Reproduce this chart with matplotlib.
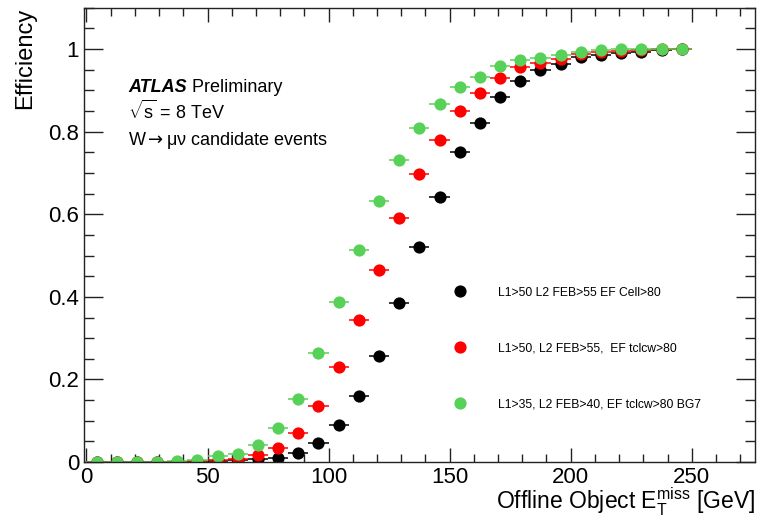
import matplotlib
matplotlib.use("Agg")
import matplotlib.pyplot as plt
from matplotlib.lines import Line2D
from matplotlib.ticker import MultipleLocator, FuncFormatter

plt.rcParams['font.family'] = ['Liberation Sans', 'DejaVu Sans']
plt.rcParams['mathtext.fontset'] = 'custom'
plt.rcParams['mathtext.rm'] = 'Liberation Sans'
plt.rcParams['mathtext.it'] = 'Liberation Sans:italic'
plt.rcParams['mathtext.bf'] = 'Liberation Sans:bold'
plt.rcParams['mathtext.sf'] = 'DejaVu Sans'

#%% data (bin centres of 8.33 GeV bins, efficiencies)
met = [4.17, 12.5, 20.83, 29.17, 37.5, 45.83, 54.17, 62.5, 70.83, 79.17,
       87.5, 95.83, 104.17, 112.5, 120.83, 129.17, 137.5, 145.83, 154.17, 162.5,
       170.83, 179.17, 187.5, 195.83, 204.17, 212.5, 220.83, 229.17, 237.5, 245.83]
bin_half = [4.17] * len(met)

eff_cell = [0.0, 0.0, 0.0, 0.0, 0.0, 0.001, 0.002, 0.004, 0.007, 0.011,
            0.022, 0.046, 0.089, 0.159, 0.258, 0.385, 0.520, 0.643, 0.750, 0.820,
            0.883, 0.922, 0.949, 0.964, 0.980, 0.985, 0.991, 0.993, 0.998, 1.0]
eff_tclcw = [0.0, 0.0, 0.0, 0.0, 0.001, 0.002, 0.006, 0.007, 0.016, 0.035,
             0.071, 0.136, 0.230, 0.343, 0.466, 0.591, 0.697, 0.780, 0.850, 0.893,
             0.931, 0.956, 0.967, 0.976, 0.989, 0.993, 0.996, 0.997, 0.999, 1.0]
eff_bg7 = [0.0, 0.0, 0.0, 0.001, 0.002, 0.005, 0.014, 0.020, 0.041, 0.082,
           0.153, 0.263, 0.387, 0.514, 0.633, 0.731, 0.810, 0.868, 0.907, 0.933,
           0.959, 0.973, 0.979, 0.986, 0.993, 0.998, 0.999, 0.999, 1.0, 1.0]

labels = ["L1>50 L2 FEB>55 EF Cell>80",
          "L1>50, L2 FEB>55,  EF tclcw>80",
          "L1>35, L2 FEB>40, EF tclcw>80 BG7"]
colors = ["black", "#ff0000", "#57d157"]

#%% plot
fig = plt.figure(figsize=(7.57, 5.18), dpi=100)
ax = fig.add_axes([0.111, 0.108, 0.886, 0.877])

for y, c in zip([eff_cell, eff_tclcw, eff_bg7], colors):
    ax.errorbar(met, y, xerr=bin_half, fmt='o', color=c, ms=8.8,
                elinewidth=1.1, capsize=3.5, capthick=1.1, mew=0)

ax.set_xlim(-1, 276)
ax.set_ylim(0, 1.1)

ax.xaxis.set_major_locator(MultipleLocator(50))
ax.xaxis.set_minor_locator(MultipleLocator(10))
ax.yaxis.set_major_locator(MultipleLocator(0.2))
ax.yaxis.set_minor_locator(MultipleLocator(0.05))
ax.yaxis.set_major_formatter(FuncFormatter(lambda v, p: f"{v:g}"))

ax.tick_params(which='both', direction='in', top=True, right=True,
               colors='#222222', labelcolor='black', labelsize=16, width=1)
ax.tick_params(axis='x', which='major', length=10, pad=3.5)
ax.tick_params(axis='x', which='minor', length=5.5)
ax.tick_params(axis='y', which='major', length=14, pad=3.5)
ax.tick_params(axis='y', which='minor', length=7)
for s in ax.spines.values():
    s.set_color('#222222')
    s.set_linewidth(1)

ax.set_ylabel("Efficiency", fontsize=17, loc='top')
ax.yaxis.set_label_coords(-0.071, 1.0)
ax.set_xlabel(r"Offline Object $\mathrm{E}_{\mathrm{T}}^{\mathrm{miss}}$ [GeV]",
              fontsize=16.5, loc='right')
ax.xaxis.set_label_coords(1.0, -0.053)

t = ax.text(0.066, 0.806, "ATLAS", fontsize=13, fontweight='bold',
            style='italic', transform=ax.transAxes, va='bottom')
ax.annotate(" Preliminary", xy=(1, 0), xycoords=t, fontsize=13, va='bottom')
ax.text(0.066, 0.755, r"$\sqrt{\mathrm{s}}$ = 8 TeV", fontsize=13,
        transform=ax.transAxes, va='baseline')
ax.text(0.066, 0.698, r"W$\mathsf{\rightarrow}$$\mathrm{\mu\nu}$ candidate events",
        fontsize=13, transform=ax.transAxes, va='baseline')

handles = [Line2D([], [], ls='none', marker='o', ms=8.8, mew=0, color=c)
           for c in colors]
ax.legend(handles, labels, loc='upper left', bbox_to_anchor=(0.551, 0.386),
          frameon=False, fontsize=8.7, labelspacing=3.62, handlelength=1.0,
          handletextpad=2.65, borderpad=0, borderaxespad=0)

fig.savefig("out.png", dpi=100)
